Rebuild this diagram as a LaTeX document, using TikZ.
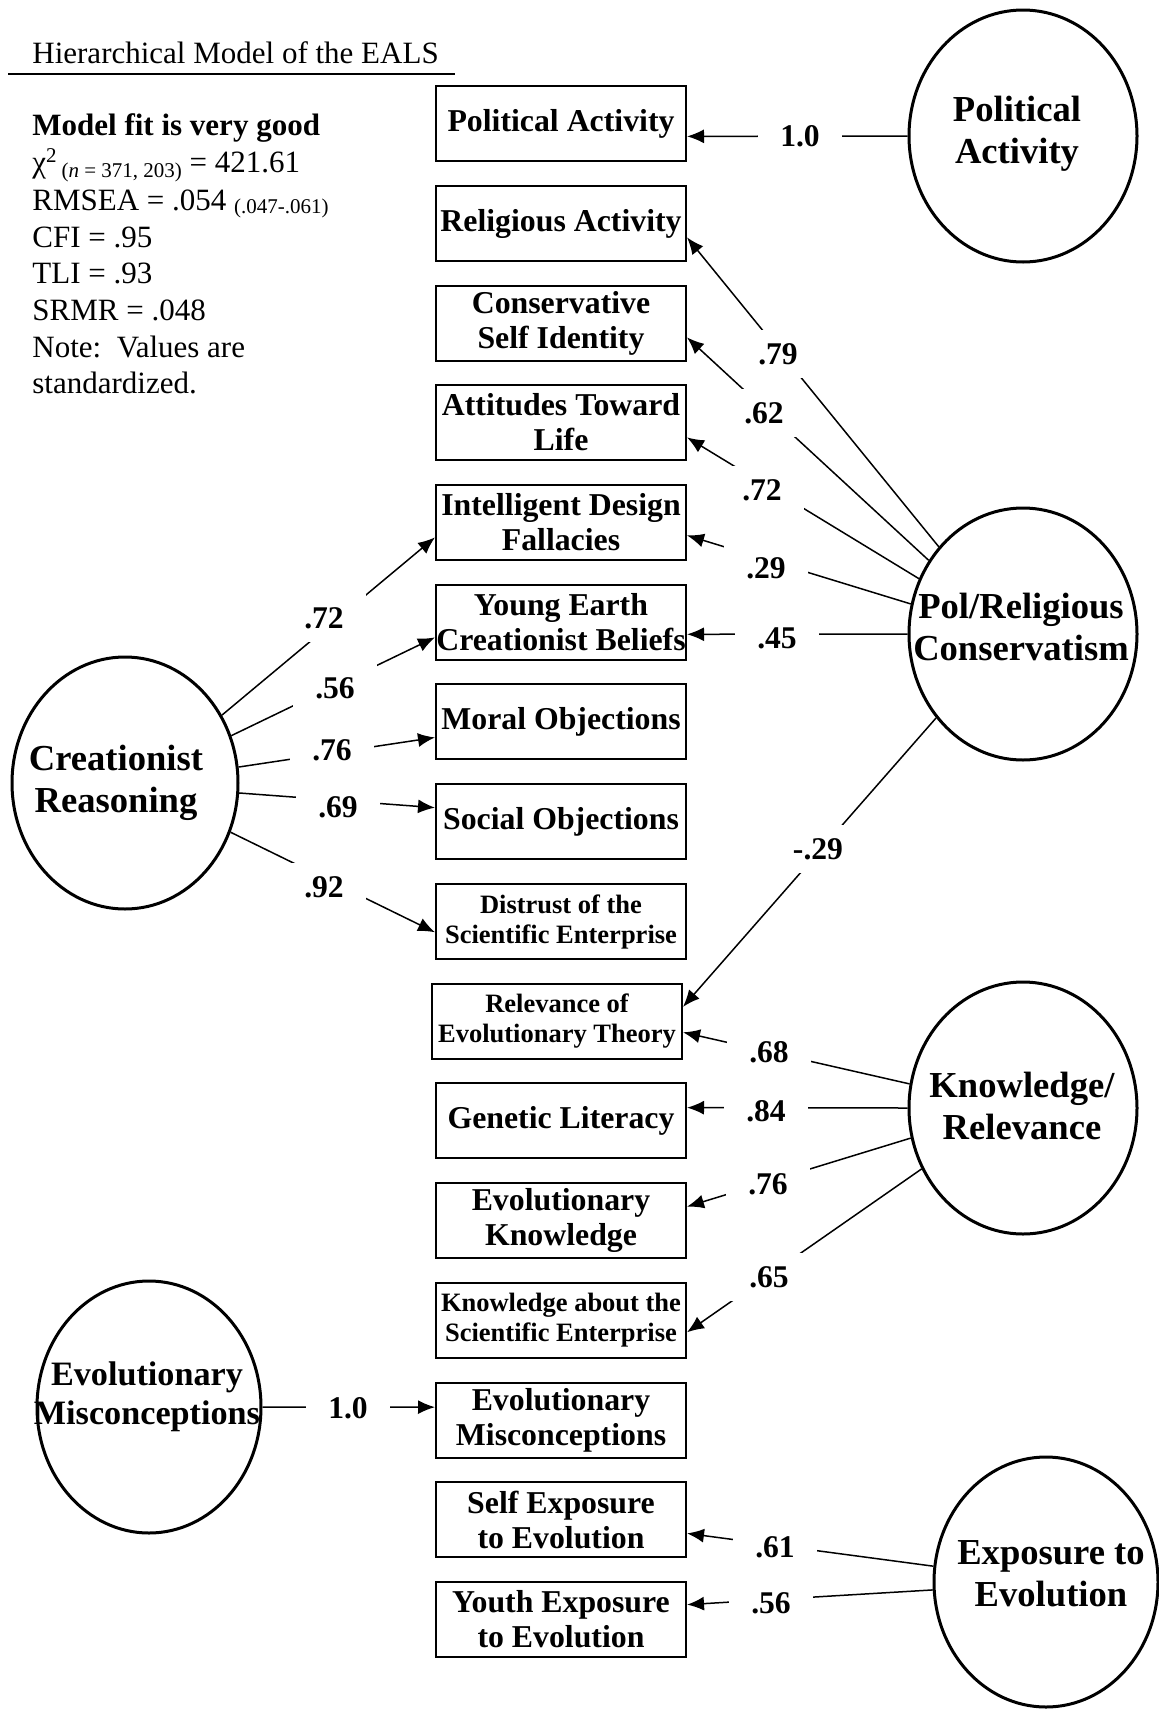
\documentclass[tikz,border=0pt]{standalone}
\usepackage{fontspec}
\setmainfont{Liberation Serif}
\usetikzlibrary{calc,arrows.meta,shapes.geometric}
\begin{document}
\begin{tikzpicture}[x=0.5pt,y=-0.5pt,
  box/.style={draw, line width=1pt, minimum width=125pt, minimum height=37.5pt, inner sep=0pt, align=center, font=\bfseries\fontsize{15.9}{17.5}\selectfont},
  sbox/.style={box, font=\bfseries\fontsize{13.25}{15}\selectfont},
  lat/.style={draw, ellipse, line width=1.5pt, minimum width=114pt, minimum height=126pt, inner sep=0pt},
  lattext/.style={align=center, inner sep=0pt, font=\bfseries\fontsize{18.3}{21}\selectfont},
  coef/.style={fill=white, inner sep=0pt, minimum width=42pt, minimum height=24pt, font=\bfseries\fontsize{15.8}{18}\selectfont},
  link/.style={line width=0.75pt, -{Latex[length=8.5pt,width=7pt,fill=black]}},
  stat/.style={anchor=base west, inner sep=0pt, font=\fontsize{15.5}{18}\selectfont}
]
\useasboundingbox (0,0) rectangle (1158,1709);

% title and fit statistics
\node[stat] (title) at (32,63) {Hierarchical Model of the EALS};
\draw[line width=1pt] (8,74) -- (455,74);
\node[stat, font=\bfseries\fontsize{15.5}{18}\selectfont] (s1) at (32,135) {Model fit is very good};
\node[stat] (s2) at (32,172) {χ\raisebox{5pt}{\fontsize{10.5}{12}\selectfont 2}\hspace{2.5pt}\raisebox{-2.5pt}{\fontsize{10.5}{12}\selectfont (\textit{n} = 371, 203)} = 421.61};
\node[stat] (s3) at (32,210) {RMSEA = .054 \raisebox{-1.5pt}{\fontsize{10.5}{12}\selectfont (.047-.061)}};
\node[stat] (s4) at (32,247) {CFI = .95};
\node[stat] (s5) at (32,283) {TLI = .93};
\node[stat] (s6) at (32,320) {SRMR = .048};
\node[stat] (s7) at (32,357) {Note:\ \ Values are};
\node[stat] (s8) at (32,393) {standardized.};

% observed variables
\node[box] (b1) at (561,123.5) {Political Activity};
\node[box] (b2) at (561,223.5) {Religious Activity};
\node[box] (b3) at (561,323.5) {Conservative\\Self Identity};
\node[box] (b4) at (561,422.5) {Attitudes Toward\\Life};
\node[box] (b5) at (561,522.5) {Intelligent Design\\Fallacies};
\node[box] (b6) at (561,622.5) {Young Earth\\Creationist Beliefs};
\node[box] (b7) at (561,721.5) {Moral Objections};
\node[box] (b8) at (561,821.5) {Social Objections};
\node[sbox] (b9) at (561,921.5) {Distrust of the\\Scientific Enterprise};
\node[sbox] (b10) at (557,1021.5) {Relevance of\\Evolutionary Theory};
\node[box] (b11) at (561,1120.5) {Genetic Literacy};
\node[box] (b12) at (561,1220.5) {Evolutionary\\Knowledge};
\node[sbox] (b13) at (561,1320.5) {Knowledge about the\\Scientific Enterprise};
\node[box] (b14) at (561,1420) {Evolutionary\\Misconceptions};
\node[box] (b15) at (561,1519.5) {Self Exposure\\to Evolution};
\node[box] (b16) at (561,1619.5) {Youth Exposure\\to Evolution};

% latent variables
\node[lat] (pa) at (1023,136) {};
\node[lat] (pr) at (1023,634) {};
\node[lat, minimum width=113pt] (cr) at (125,783) {};
\node[lat] (kr) at (1023,1108) {};
\node[lat, minimum width=112pt] (em) at (149,1407) {};
\node[lat, minimum width=112pt, minimum height=125pt] (ee) at (1046,1582) {};

\node[lattext] (pat) at (1017,134) {Political\\Activity};
\node[lattext] (prt) at (1021,627) {Pol/Religious\\Conservatism};
\node[lattext] (crt) at (116,783) {Creationist\\Reasoning};
\node[lattext] (krt) at (1022,1106) {Knowledge/\\Relevance};
\node[lattext, font=\bfseries\fontsize{17.1}{19.5}\selectfont] (emt) at (147,1397) {Evolutionary\\Misconceptions};
\node[lattext] (eet) at (1051,1574) {Exposure to\\Evolution};

% arrow end points on the boxes
\coordinate (b1e) at ($(b1.north east)!0.667!(b1.south east)$);
\coordinate (b2e) at ($(b2.north east)!0.68!(b2.south east)$);
\coordinate (b3e) at ($(b3.north east)!0.68!(b3.south east)$);
\coordinate (b4e) at ($(b4.north east)!0.693!(b4.south east)$);
\coordinate (b5e) at ($(b5.north east)!0.667!(b5.south east)$);
\coordinate (b6e) at ($(b6.north east)!0.653!(b6.south east)$);
\coordinate (b10ea) at ($(b10.north east)!0.31!(b10.south east)$);
\coordinate (b10eb) at ($(b10.north east)!0.64!(b10.south east)$);
\coordinate (b11e) at ($(b11.north east)!0.333!(b11.south east)$);
\coordinate (b12e) at ($(b12.north east)!0.32!(b12.south east)$);
\coordinate (b13e) at ($(b13.north east)!0.653!(b13.south east)$);
\coordinate (b15e) at ($(b15.north east)!0.68!(b15.south east)$);
\coordinate (b16e) at ($(b16.north east)!0.307!(b16.south east)$);
\coordinate (b5w) at ($(b5.north west)!0.693!(b5.south west)$);
\coordinate (b6w) at ($(b6.north west)!0.693!(b6.south west)$);
\coordinate (b7w) at ($(b7.north west)!0.707!(b7.south west)$);
\coordinate (b8w) at ($(b8.north west)!0.32!(b8.south west)$);
\coordinate (b9w) at ($(b9.north west)!0.64!(b9.south west)$);
\coordinate (b14w) at ($(b14.north west)!0.333!(b14.south west)$);

% connectors
\draw[link] (pa.west) -- (b1e);
\draw[link] (pr.134) -- (b2e);
\draw[link] (pr.142) -- (b3e);
\draw[link] (pr.152) -- (b4e);
\draw[link] (pr.165) -- (b5e);
\draw[link] (pr.west) -- (b6e);
\draw[link] (pr.224) -- (b10ea);
\draw[link] (kr.168) -- (b10eb);
\draw[link] (kr.west) -- (b11e);
\draw[link] (kr.195) -- (b12e);
\draw[link] (kr.211) -- (b13e);
\draw[link] (cr.35) -- (b5w);
\draw[link] (cr.24) -- (b6w);
\draw[link] (cr.8) -- (b7w);
\draw[link] (cr.355) -- (b8w);
\draw[link] (cr.335) -- (b9w);
\draw[link] (em.east) -- (b14w);
\draw[link] (ee.172) -- (b15e);
\draw[link] (ee.184) -- (b16e);

% coefficients
\node[coef] (c1) at (800,136) {1.0};
\node[coef] (c2) at (778,354) {.79};
\node[coef] (c3) at (764,413) {.62};
\node[coef] (c4) at (762,490) {.72};
\node[coef] (c5) at (766,568) {.29};
\node[coef] (c6) at (777,638) {.45};
\node[coef] (c7) at (818,849) {-.29};
\node[coef] (c8) at (769,1052) {.68};
\node[coef] (c9) at (766,1111) {.84};
\node[coef] (c10) at (768,1184) {.76};
\node[coef] (c11) at (769,1277) {.65};
\node[coef] (c12) at (324,618) {.72};
\node[coef] (c13) at (335,688) {.56};
\node[coef] (c14) at (332,750) {.76};
\node[coef] (c15) at (338,807) {.69};
\node[coef] (c16) at (324,887) {.92};
\node[coef] (c17) at (348,1408) {1.0};
\node[coef] (c18) at (775,1547) {.61};
\node[coef] (c19) at (771,1603) {.56};
\end{tikzpicture}
\end{document}
